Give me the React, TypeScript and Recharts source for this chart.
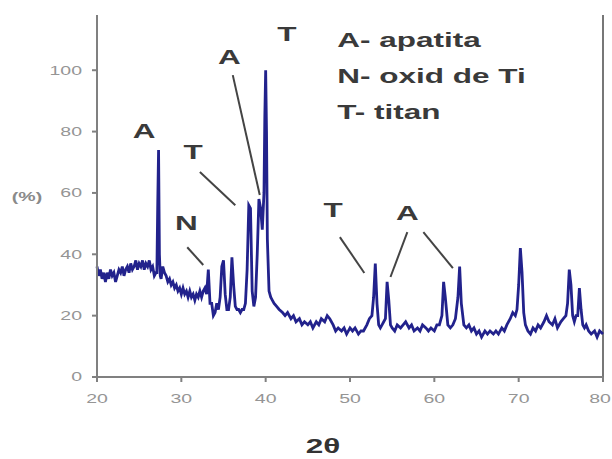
import { LineChart, Line, XAxis, YAxis, ReferenceLine, ReferenceDot } from "recharts"

// 2θ positions (deg) and relative intensity (%)
const twoTheta = [
  20.0, 20.2, 20.4, 20.6, 20.8, 21.0, 21.2, 21.4, 21.6, 21.8,
  22.0, 22.2, 22.4, 22.6, 22.8, 23.0, 23.2, 23.4, 23.6, 23.8,
  24.0, 24.2, 24.4, 24.6, 24.8, 25.0, 25.2, 25.4, 25.6, 25.8,
  26.0, 26.2, 26.4, 26.6, 26.8, 27.0, 27.1, 27.2, 27.3, 27.4,
  27.5, 27.6, 27.8, 28.0, 28.2, 28.4, 28.6, 28.8, 29.0, 29.2,
  29.4, 29.6, 29.8, 30.0, 30.2, 30.4, 30.6, 30.8, 31.0, 31.2,
  31.4, 31.6, 31.8, 32.0, 32.2, 32.4, 32.6, 32.8, 33.0, 33.2,
  33.4, 33.6, 33.8, 34.0, 34.2, 34.4, 34.6, 34.8, 35.0, 35.2,
  35.4, 35.6, 35.8, 36.0, 36.2, 36.4, 36.6, 36.8, 37.0, 37.2,
  37.4, 37.6, 37.8, 38.0, 38.2, 38.4, 38.6, 38.8, 39.0, 39.2,
  39.4, 39.6, 39.8, 39.9, 40.0, 40.1, 40.2, 40.4, 40.6, 40.8,
  41.0, 41.3, 41.6, 42.0, 42.3, 42.6, 43.0, 43.3, 43.6, 44.0,
  44.3, 44.6, 45.0, 45.3, 45.6, 46.0, 46.3, 46.6, 47.0, 47.3,
  47.6, 48.0, 48.3, 48.6, 49.0, 49.3, 49.6, 50.0, 50.3, 50.6,
  51.0, 51.3, 51.6, 52.0, 52.3, 52.6, 52.8, 53.0, 53.2, 53.4,
  53.6, 53.8, 54.0, 54.2, 54.4, 54.6, 54.8, 55.0, 55.3, 55.6,
  56.0, 56.3, 56.6, 57.0, 57.3, 57.6, 58.0, 58.3, 58.6, 59.0,
  59.3, 59.6, 60.0, 60.3, 60.6, 60.9, 61.1, 61.3, 61.6, 61.9,
  62.2, 62.5, 62.8, 63.0, 63.2, 63.5, 63.8, 64.1, 64.4, 64.7,
  65.0, 65.3, 65.6, 66.0, 66.3, 66.6, 67.0, 67.3, 67.6, 68.0,
  68.3, 68.6, 69.0, 69.3, 69.6, 69.8, 70.0, 70.2, 70.4, 70.6,
  70.8, 71.1, 71.4, 71.7, 72.0, 72.3, 72.6, 73.0, 73.3, 73.6,
  74.0, 74.3, 74.6, 75.0, 75.3, 75.6, 75.8, 76.0, 76.2, 76.4,
  76.6, 76.8, 77.0, 77.2, 77.4, 77.6, 77.8, 78.0, 78.3, 78.6,
  79.0, 79.3, 79.6, 80.0,
]

const intensity = [
  36, 33, 35, 32, 34, 31, 34, 32, 35, 33,
  34, 31, 33, 35, 34, 36, 33, 35, 36, 34,
  37, 35, 36, 38, 35, 37, 36, 38, 35, 37,
  36, 38, 35, 36, 33, 34, 34, 56, 74, 40,
  33, 32, 36, 34, 33, 31, 32, 30, 31, 29,
  30, 28, 29, 27, 29, 27, 28, 26, 28, 26,
  27, 25, 27, 26, 28, 26, 28, 29, 27, 35,
  24, 24, 20, 21, 24, 22, 26, 36, 38, 27,
  22, 22, 26, 39, 30, 23, 22, 22, 21, 22,
  22, 24, 35, 56, 55, 28, 23, 26, 40, 58,
  55, 48, 60, 85, 100, 80, 45, 28, 26, 25,
  24, 23, 22, 21, 20, 21, 19, 20, 18, 19,
  17, 18, 17, 18, 16, 18, 17, 19, 18, 20,
  19, 17, 15, 16, 15, 16, 14, 16, 15, 16,
  14, 15, 15, 17, 19, 20, 26, 37, 24, 17,
  16, 17, 18, 19, 31, 25, 17, 16, 15, 17,
  16, 17, 18, 16, 17, 15, 16, 15, 17, 16,
  15, 16, 15, 17, 17, 20, 31, 26, 17, 16,
  17, 19, 26, 36, 24, 17, 16, 17, 15, 16,
  14, 15, 13, 15, 14, 15, 14, 15, 14, 16,
  15, 17, 19, 21, 20, 22, 30, 42, 34, 21,
  17, 15, 14, 16, 15, 17, 16, 18, 20, 18,
  17, 19, 16, 18, 19, 20, 24, 35, 30, 20,
  18, 20, 20, 29, 22, 17, 16, 17, 15, 14,
  15, 13, 15, 14,
]

const xTicks = [20, 30, 40, 50, 60, 70, 80]
const yTicks = [0, 20, 40, 60, 80, 100]

// peak letters: [label, 2θ, %]
const peakLabels: [string, number, number][] = [
  ["A", 25.6, 80.1],
  ["T", 31.4, 73.3],
  ["N", 30.6, 50.2],
  ["A", 35.7, 104.2],
  ["T", 42.5, 111.7],
  ["T", 48.0, 54.4],
  ["A", 56.8, 53.4],
]

// leader lines from letter to peak: [x1, y1, x2, y2]
const leaders: [number, number, number, number][] = [
  [32.2, 66.8, 36.4, 56.0],
  [30.7, 42.3, 32.6, 36.5],
  [36.1, 98.4, 39.3, 59.3],
  [48.8, 45.6, 51.7, 33.9],
  [56.8, 47.2, 54.8, 32.6],
  [58.7, 47.2, 62.2, 35.5],
]

const legendLines = ["A- apatita", "N- oxid de Ti", "T- titan"]
const legendY = [107.5, 95.8, 84.0]

const data = twoTheta.map((t, i) => ({ t, v: intensity[i] }))

const font = "'Liberation Sans', Arial, sans-serif"
const stretch = 1.5

const XTick = ({ x, y, payload }: any) => (
  <text
    transform={`translate(${payload.value === 80 ? x - 3 : x},${y + 7}) scale(${stretch},1)`}
    textAnchor="middle"
    dominantBaseline="central"
    fontSize={13}
    fill="#959595"
    fontFamily={font}
  >
    {payload.value}
  </text>
)

const YTick = ({ x, y, payload }: any) => (
  <text
    transform={`translate(${x},${y}) scale(${stretch},1)`}
    textAnchor="end"
    dominantBaseline="central"
    fontSize={13}
    fill="#959595"
    fontFamily={font}
  >
    {payload.value}
  </text>
)

const Letter = (text: string, anchor: string, baseline: string) => (props: any) => (
  <text
    transform={`translate(${props.cx},${props.cy}) scale(${stretch},1)`}
    textAnchor={anchor}
    dominantBaseline={baseline}
    fontSize={21}
    fontWeight="bold"
    fill="#3a3a3a"
    fontFamily={font}
  >
    {text}
  </text>
)

export default function App() {
  return (
    <div style={{ position: "absolute", left: 0, top: 0, width: 612, height: 459, background: "#fff" }}>
      <LineChart width={612} height={459} data={data} margin={{ top: 15, right: 9, left: 37, bottom: 52 }}>
        <XAxis
          dataKey="t"
          type="number"
          domain={[20, 80]}
          ticks={xTicks}
          tick={<XTick />}
          tickSize={5}
          tickMargin={10}
          axisLine={{ stroke: "#808080", strokeWidth: 2 }}
          tickLine={{ stroke: "#808080", strokeWidth: 2 }}
        />
        <YAxis
          type="number"
          domain={[0, 118]}
          ticks={yTicks}
          tick={<YTick />}
          tickSize={5}
          tickMargin={10}
          width={60}
          axisLine={{ stroke: "#808080", strokeWidth: 2 }}
          tickLine={{ stroke: "#808080", strokeWidth: 2 }}
        />
        <ReferenceLine x={80} stroke="#777" strokeWidth={2} />
        {leaders.map(([x1, y1, x2, y2], i) => (
          <ReferenceLine
            key={"l" + i}
            segment={[{ x: x1, y: y1 }, { x: x2, y: y2 }]}
            stroke="#444"
            strokeWidth={2}
          />
        ))}
        <Line
          type="linear"
          dataKey="v"
          stroke="#22228c"
          strokeWidth={2.8}
          dot={false}
          isAnimationActive={false}
        />
        {peakLabels.map(([s, x, y], i) => (
          <ReferenceDot key={"p" + i} x={x} y={y} r={1} shape={Letter(s, "middle", "central")} />
        ))}
        {legendLines.map((s, i) => (
          <ReferenceDot key={"g" + i} x={48.5} y={legendY[i]} r={1} shape={Letter(s, "start", "alphabetic")} />
        ))}
      </LineChart>
      <div
        style={{
          position: "absolute",
          left: 27,
          top: 196,
          transform: `translate(-50%,-50%) scale(${stretch},1)`,
          fontFamily: font,
          fontSize: 13,
          fontWeight: "bold",
          color: "#8a8a8a",
          whiteSpace: "nowrap",
        }}
      >
        (%)
      </div>
      <div
        style={{
          position: "absolute",
          left: 323,
          top: 446,
          transform: `translate(-50%,-50%) scale(${stretch},1)`,
          fontFamily: font,
          fontSize: 21,
          fontWeight: "bold",
          color: "#333",
          whiteSpace: "nowrap",
        }}
      >
        2θ
      </div>
    </div>
  )
}
